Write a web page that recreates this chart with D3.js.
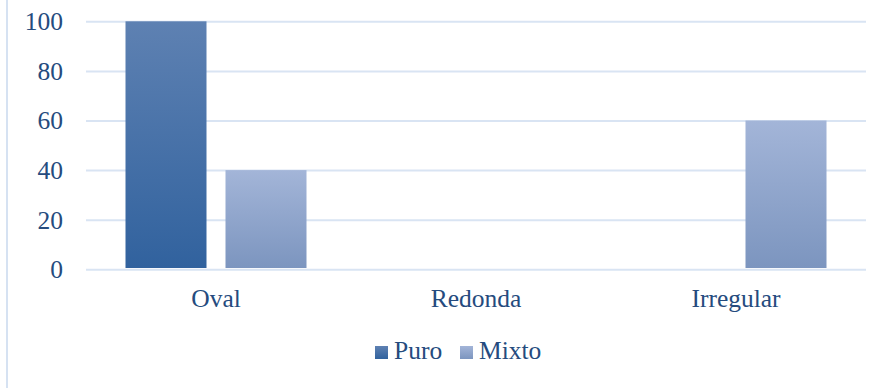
<!DOCTYPE html>
<html>
<head>
<meta charset="utf-8">
<script src="https://cdn.jsdelivr.net/npm/d3@7"></script>
<style>
  html, body { margin: 0; padding: 0; background: #fff; }
  svg { display: block; }
  text { font-family: "Liberation Serif", "Times New Roman", serif; fill: #254b7e; }
</style>
</head>
<body>
<svg id="chart" width="884" height="388"></svg>
<script>
// Shapes of the sample, by type
const categories = ["Oval", "Redonda", "Irregular"];
const seriesNames = ["Puro", "Mixto"];
const puroValues = [100, 0, 0];
const mixtoValues = [40, 0, 60];
const yTicks = [0, 20, 40, 60, 80, 100];

const svg = d3.select("#chart");
const W = 884, H = 388;
const plot = { left: 86, right: 866, top: 21.3, bottom: 269.3 };
const fontSize = "25.5px";

const rows = categories.map((c, i) => ({
  category: c,
  values: [
    { series: "Puro", value: puroValues[i] },
    { series: "Mixto", value: mixtoValues[i] }
  ]
}));

// Gradients: each bar shades from its own top to its bottom
const defs = svg.append("defs");
const gradients = {
  Puro: ["#5e81b2", "#31629e"],
  Mixto: ["#a3b5d8", "#7c95bf"]
};
Object.entries(gradients).forEach(([name, [top, bottom]]) => {
  const g = defs.append("linearGradient")
    .attr("id", "grad-" + name)
    .attr("x1", 0).attr("y1", 0).attr("x2", 0).attr("y2", 1);
  g.append("stop").attr("offset", "0%").attr("stop-color", top);
  g.append("stop").attr("offset", "100%").attr("stop-color", bottom);
});

// Outer frame edge on the left
svg.append("line")
  .attr("x1", 7).attr("x2", 7).attr("y1", 0).attr("y2", H)
  .attr("stroke", "#d6e2f2").attr("stroke-width", 2);

const x0 = d3.scaleBand().domain(categories).range([plot.left, plot.right]);
const x1 = d3.scaleBand().domain(seriesNames)
  .range([0, x0.bandwidth()]).paddingInner(0.19).paddingOuter(0.395);
const y = d3.scaleLinear().domain([0, 100]).range([plot.bottom, plot.top]);

// Horizontal gridlines
const grid = svg.append("g")
  .attr("transform", `translate(${plot.left},0)`)
  .call(d3.axisLeft(y).tickValues(yTicks).tickSize(-(plot.right - plot.left)).tickFormat(""));
grid.select(".domain").remove();
grid.selectAll(".tick line").attr("stroke", "#d9e4f3").attr("stroke-width", 2);

// Y axis labels
const yAxis = svg.append("g")
  .attr("transform", `translate(${plot.left - 23},0)`)
  .call(d3.axisLeft(y).tickValues(yTicks).tickSize(0).tickPadding(0).tickFormat(d3.format("d")));
yAxis.select(".domain").remove();
yAxis.selectAll("text")
  .style("font-size", fontSize).attr("fill", "#254b7e").attr("dy", "0.33em");

// Bars
const groups = svg.append("g").selectAll("g")
  .data(rows).join("g")
  .attr("transform", d => `translate(${x0(d.category)},0)`);
groups.selectAll("rect")
  .data(d => d.values.filter(v => v.value > 0))
  .join("rect")
  .attr("x", d => x1(d.series))
  .attr("width", x1.bandwidth())
  .attr("y", d => y(d.value))
  .attr("height", d => y(0) - 1.3 - y(d.value))
  .attr("fill", d => `url(#grad-${d.series})`);

// Category axis labels
const xAxis = svg.append("g")
  .attr("transform", `translate(0,${plot.bottom})`)
  .call(d3.axisBottom(x0).tickSize(0).tickPadding(0));
xAxis.select(".domain").remove();
xAxis.selectAll("text")
  .style("font-size", fontSize).attr("fill", "#254b7e")
  .attr("dy", null).attr("y", 37.5);

// Legend
const legendItems = [
  { name: "Puro", x: 375 },
  { name: "Mixto", x: 460 }
];
const legend = svg.append("g").selectAll("g")
  .data(legendItems).join("g")
  .attr("transform", d => `translate(${d.x},359)`);
legend.append("rect")
  .attr("x", 0).attr("y", -13).attr("width", 13).attr("height", 13)
  .attr("fill", d => `url(#grad-${d.name})`);
legend.append("text")
  .attr("x", 19).attr("y", 0)
  .style("font-size", fontSize)
  .text(d => d.name);
</script>
</body>
</html>
